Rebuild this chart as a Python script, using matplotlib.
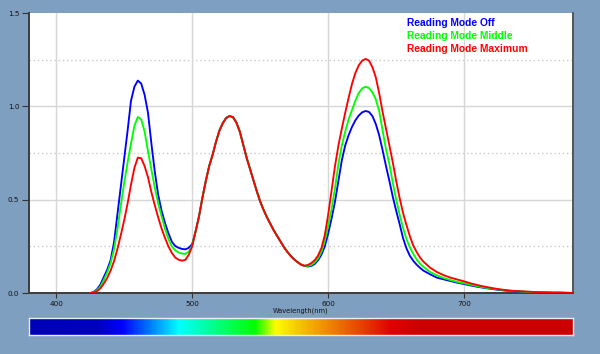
import numpy as np
import matplotlib
matplotlib.use("Agg")
import matplotlib.pyplot as plt
from matplotlib.colors import LinearSegmentedColormap

# ---------------- data ----------------
# 2.5 nm steps from 425 to 667.5 nm, then 5 nm steps from 670 to 780 nm
wavelength = np.concatenate([np.arange(425, 670, 2.5), np.arange(670, 781, 5)])

mode_off = [
    0.0, 0.005, 0.02, 0.045, 0.085, 0.125, 0.175, 0.27, 0.42, 0.57,         # 425-447.5
    0.72, 0.87, 1.03, 1.105, 1.138, 1.122, 1.062, 0.965, 0.80, 0.65,        # 450-472.5
    0.525, 0.44, 0.375, 0.32, 0.275, 0.252, 0.242, 0.236, 0.234, 0.242,     # 475-497.5
    0.262, 0.33, 0.41, 0.51, 0.60, 0.68, 0.74, 0.81, 0.87, 0.91,            # 500-522.5
    0.938, 0.948, 0.942, 0.913, 0.865, 0.795, 0.725, 0.665, 0.605, 0.545,   # 525-547.5
    0.49, 0.445, 0.405, 0.37, 0.335, 0.305, 0.275, 0.245, 0.22, 0.198,      # 550-572.5
    0.18, 0.165, 0.153, 0.145, 0.142, 0.145, 0.155, 0.175, 0.205, 0.25,     # 575-597.5
    0.32, 0.40, 0.49, 0.60, 0.71, 0.79, 0.845, 0.89, 0.925, 0.951,          # 600-622.5
    0.968, 0.975, 0.97, 0.948, 0.905, 0.845, 0.765, 0.68, 0.60, 0.515,      # 625-647.5
    0.44, 0.37, 0.295, 0.24, 0.20, 0.173, 0.152, 0.135,                     # 650-667.5
    0.12, 0.10, 0.082, 0.073, 0.064, 0.055, 0.048,                          # 670-700
    0.04, 0.033, 0.027, 0.022, 0.017, 0.013, 0.01, 0.008,                   # 705-740
    0.006, 0.005, 0.004, 0.003, 0.002, 0.002, 0.001, 0.0,                   # 745-780
]
mode_middle = [
    0.0, 0.004, 0.015, 0.035, 0.07, 0.11, 0.16, 0.235, 0.34, 0.47,
    0.59, 0.70, 0.80, 0.895, 0.943, 0.93, 0.865, 0.76, 0.66, 0.565,
    0.48, 0.41, 0.345, 0.29, 0.25, 0.228, 0.217, 0.211, 0.209, 0.222,
    0.255, 0.33, 0.41, 0.51, 0.60, 0.68, 0.74, 0.81, 0.87, 0.91,
    0.938, 0.948, 0.942, 0.913, 0.865, 0.795, 0.725, 0.665, 0.605, 0.545,
    0.49, 0.445, 0.405, 0.37, 0.335, 0.305, 0.275, 0.245, 0.22, 0.198,
    0.18, 0.165, 0.153, 0.146, 0.145, 0.15, 0.163, 0.185, 0.22, 0.28,
    0.36, 0.45, 0.56, 0.69, 0.79, 0.865, 0.93, 0.98, 1.03, 1.072,
    1.096, 1.105, 1.098, 1.075, 1.037, 0.975, 0.87, 0.77, 0.69, 0.59,
    0.50, 0.42, 0.35, 0.29, 0.245, 0.21, 0.18, 0.157,
    0.14, 0.112, 0.094, 0.08, 0.069, 0.059, 0.052,
    0.044, 0.036, 0.029, 0.024, 0.019, 0.015, 0.011, 0.009,
    0.007, 0.005, 0.004, 0.003, 0.002, 0.002, 0.001, 0.0,
]
mode_maximum = [
    0.0, 0.003, 0.01, 0.025, 0.05, 0.08, 0.12, 0.17, 0.235, 0.31,
    0.39, 0.48, 0.58, 0.67, 0.725, 0.722, 0.68, 0.62, 0.54, 0.47,
    0.405, 0.345, 0.295, 0.25, 0.215, 0.19, 0.178, 0.173, 0.178, 0.205,
    0.25, 0.33, 0.41, 0.51, 0.60, 0.68, 0.74, 0.81, 0.87, 0.91,
    0.938, 0.948, 0.942, 0.913, 0.865, 0.795, 0.725, 0.665, 0.605, 0.545,
    0.49, 0.445, 0.405, 0.37, 0.335, 0.305, 0.275, 0.245, 0.22, 0.198,
    0.18, 0.165, 0.152, 0.146, 0.15, 0.16, 0.175, 0.2, 0.24, 0.31,
    0.42, 0.55, 0.68, 0.79, 0.88, 0.965, 1.045, 1.12, 1.179, 1.22,
    1.245, 1.254, 1.245, 1.21, 1.155, 1.07, 0.97, 0.88, 0.79, 0.70,
    0.60, 0.51, 0.43, 0.365, 0.305, 0.255, 0.22, 0.19,
    0.168, 0.135, 0.112, 0.095, 0.082, 0.072, 0.062,
    0.051, 0.042, 0.034, 0.027, 0.021, 0.016, 0.012, 0.01,
    0.008, 0.006, 0.004, 0.003, 0.002, 0.002, 0.001, 0.0,
]

series_labels = ["Reading Mode Off", "Reading Mode Middle", "Reading Mode Maximum"]
series_colors = ["#0000ff", "#00ff00", "#ff0000"]
x_ticks = [400, 500, 600, 700]
y_ticks = [0.0, 0.5, 1.0, 1.5]
y_minor = [0.25, 0.75, 1.25]

# spectrum colour bar stops (wavelength, colour)
bar_stops = [
    (380, "#0000b8"), (430, "#0000c0"), (448, "#0000ff"), (490, "#00ffff"),
    (546, "#00ff00"), (561, "#ffff00"), (578, "#f5c800"), (605, "#ee7a00"),
    (647, "#e00000"), (670, "#cc0000"), (780, "#cc0000"),
]

# ---------------- figure ----------------
bg = "#7f9fc1"
fig = plt.figure(figsize=(6.0, 3.54), dpi=100, facecolor=bg)
plt.rcParams["font.family"] = ["DejaVu Sans"]

ax = fig.add_axes([29 / 600, 1 - 293 / 354, 544 / 600, 280 / 354])
ax.set_facecolor("white")
ax.set_xlim(380, 780)
ax.set_ylim(0, 1.5)

for yv in y_ticks[1:-1]:
    ax.axhline(yv, color="#d6d6d6", lw=1.0, zorder=1)
for yv in y_minor:
    ax.axhline(yv, color="#c8c8c8", lw=1.0, ls=(0, (1, 2)), zorder=1)
for xv in x_ticks:
    ax.axvline(xv, color="#d6d6d6", lw=1.0, zorder=1)

for vals, lab, col in zip([mode_off, mode_middle, mode_maximum], series_labels, series_colors):
    ax.plot(wavelength, vals, color=col, lw=1.35, zorder=3, solid_joinstyle="round")

ax.set_xticks(x_ticks)
ax.set_xticklabels([str(v) for v in x_ticks])
ax.set_yticks(y_ticks)
ax.set_yticklabels([f"{v:.1f}" for v in y_ticks])
ax.tick_params(axis="y", length=5, width=0.8, color="#333333", labelsize=5.2,
               labelcolor="#111111", pad=2)
ax.tick_params(axis="x", length=3.5, width=0.8, color="#333333", labelsize=5.2,
               labelcolor="#111111", pad=2.5)

for s in ["left", "bottom"]:
    ax.spines[s].set_color("#3c3c3c")
    ax.spines[s].set_linewidth(1.4)
ax.spines["right"].set_color("#555555")
ax.spines["right"].set_linewidth(1.4)
ax.spines["top"].set_visible(False)

for i, (lab, col) in enumerate(zip(series_labels, series_colors)):
    ax.text(0.694, 0.964 - i * 0.0458, lab, color=col, fontsize=7.4,
            family=["Liberation Sans", "DejaVu Sans"], fontweight="bold",
            transform=ax.transAxes, va="center", ha="left", zorder=5)

fig.text(301 / 600, 1 - 311 / 354, "Wavelength(nm)", fontsize=4.8,
         color="#111111", ha="center", va="center")

# spectrum bar
cax = fig.add_axes([29 / 600, 1 - 335 / 354, 544 / 600, 17 / 354])
pos = [(w - bar_stops[0][0]) / (bar_stops[-1][0] - bar_stops[0][0]) for w, _ in bar_stops]
cmap = LinearSegmentedColormap.from_list("spec", list(zip(pos, [c for _, c in bar_stops])))
grad = np.linspace(0, 1, 600).reshape(1, -1)
cax.imshow(grad, aspect="auto", cmap=cmap, extent=[380, 780, 0, 1])
cax.set_xticks([])
cax.set_yticks([])
for s in cax.spines.values():
    s.set_color("#e8eef5")
    s.set_linewidth(1.0)

fig.savefig("out.png", dpi=100, facecolor=bg)
